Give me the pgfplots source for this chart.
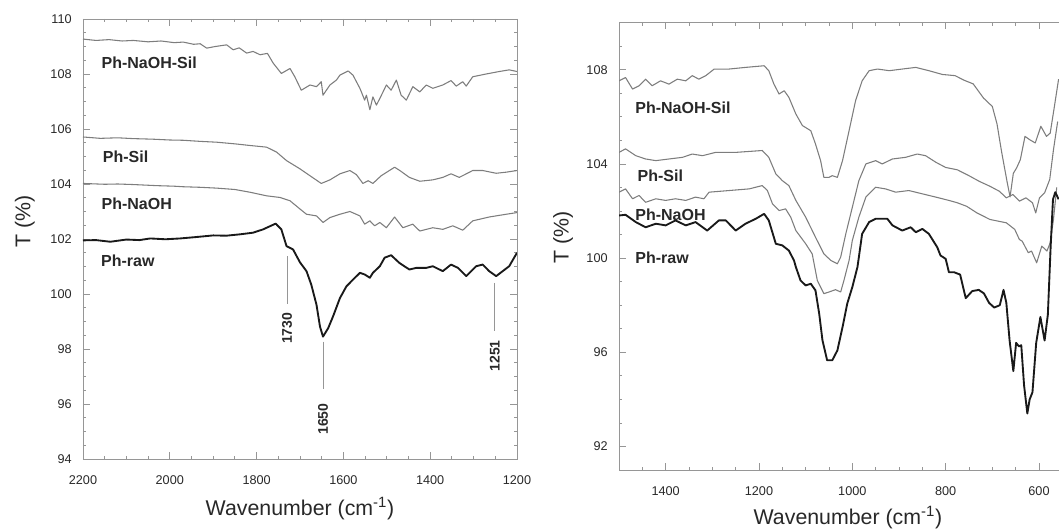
\documentclass[border=0pt]{standalone}
\usepackage{pgfplots}
\pgfplotsset{compat=1.18}
\usepackage{fontspec}
\setmainfont{Liberation Sans}
\definecolor{axgray}{RGB}{150,150,150}
\definecolor{curvegray}{RGB}{125,125,125}
\definecolor{txt}{RGB}{40,40,40}

\pgfplotsset{
  irplot/.style={
    scale only axis,
    x dir=reverse,
    axis line style={axgray, line width=0.6pt},
    every tick/.style={axgray, line width=0.6pt},
    tick align=inside,
    major tick length=5pt,
    minor tick length=2.5pt,
    scaled ticks=false,
    /pgf/number format/1000 sep={},
    /pgf/number format/assume math mode=true,
    ticklabel style={font=\fontsize{9.5}{10}\selectfont, text=txt},
    xticklabel style={yshift=-9pt},
    yticklabel style={xshift=-5pt},
    label style={font=\fontsize{16}{18}\selectfont, text=txt},
    xlabel={Wavenumber (cm\textsuperscript{-1})},
    ylabel={T (\%)},
  },
  sample/.style={curvegray, line width=0.8pt, line join=round},
  raw/.style={black!90, line width=1.4pt, line join=round},
}
\tikzset{
  tag/.style={anchor=west, font=\bfseries\fontsize{12}{12}\selectfont, text=txt},
  peak/.style={rotate=90, font=\bfseries\fontsize{10.5}{10.5}\selectfont, text=txt},
}

\begin{document}
\begin{tikzpicture}
\useasboundingbox (0,0) rectangle (794.25pt,396pt);

% ---- left: 2200-1200 cm-1 ----
\begin{axis}[irplot,
    at={(62.25pt,51.75pt)}, anchor=south west,
    width=325.5pt, height=330pt,
    xmin=1200, xmax=2200, ymin=94, ymax=110,
    xtick={1200,1400,...,2200}, minor xtick={1200,1250,...,2200},
    ytick={94,96,...,110}, minor ytick={94,94.5,...,110},
    xlabel style={at={(axis description cs:0.5,-0.112)}, anchor=center},
    ylabel style={at={(axis description cs:-0.134,0.54)}, anchor=center},
  ]
% Ph-NaOH-Sil
\addplot[sample] coordinates {
(2200,109.27)(2170,109.22)(2140,109.25)(2110,109.2)(2084,109.22)(2050,109.17)
(2020,109.2)(1990,109.14)(1969,109.16)(1945,109.08)(1930,109.1)(1915,108.94)
(1895,109.0)(1869,109.06)(1854,108.88)(1840,108.95)
(1823,108.76)(1808,108.82)(1792,108.7)(1775,108.75)(1762,108.4)(1743,108.02)(1723,108.2)(1712,107.9)
(1697,107.41)(1677,107.6)(1662,107.54)(1651,107.72)(1647,107.23)(1631,107.6)
(1616,107.78)(1608,107.96)(1589,108.11)(1578,107.96)(1562,107.48)(1551,107.05)
(1547,107.23)(1539,106.7)(1532,107.17)(1524,106.87)(1516,107.11)(1501,107.6)
(1490,107.41)(1478,107.78)(1467,107.23)(1455,107.05)(1440,107.54)(1424,107.35)
(1409,107.6)(1394,107.48)(1371,107.6)(1352,107.76)(1340,107.56)(1325,107.72)
(1317,107.56)(1302,107.9)(1271,108.0)(1241,108.09)(1218,108.15)(1200,108.09)};
% Ph-Sil
\addplot[sample] coordinates {
(2200,105.71)(2160,105.66)(2120,105.68)(2084,105.65)(2040,105.63)(2000,105.6)
(1969,105.59)(1930,105.55)(1892,105.52)(1850,105.46)(1815,105.4)(1777,105.34)
(1754,105.16)(1731,104.85)(1700,104.55)(1677,104.3)(1651,104.02)(1631,104.15)
(1608,104.37)(1585,104.49)(1570,104.34)(1555,104.02)(1543,104.12)(1532,104.02)
(1513,104.3)(1482,104.61)(1470,104.49)(1448,104.24)(1424,104.1)(1394,104.15)
(1371,104.24)(1352,104.37)(1333,104.24)(1302,104.49)(1279,104.49)(1248,104.39)
(1225,104.43)(1200,104.49)};
% Ph-NaOH
\addplot[sample] coordinates {
(2200,104.02)(2150,103.99)(2120,104.0)(2084,103.98)(2030,103.94)(1990,103.92)
(1969,103.9)(1930,103.88)(1892,103.85)(1850,103.8)(1815,103.7)(1777,103.57)
(1746,103.51)(1723,103.39)(1700,103.09)(1685,102.9)(1662,102.84)(1647,102.6)
(1631,102.78)(1608,102.9)(1585,103.0)(1562,102.84)(1551,102.54)(1539,102.66)
(1528,102.48)(1516,102.6)(1501,102.41)(1482,102.8)(1463,102.41)(1440,102.54)
(1424,102.29)(1394,102.41)(1371,102.35)(1348,102.48)(1325,102.32)(1302,102.66)
(1264,102.8)(1225,102.9)(1200,102.96)};
% Ph-raw
\addplot[raw] coordinates {
(2200,101.95)(2170,101.96)(2137,101.9)(2100,101.98)(2070,101.96)(2045,102.02)
(2010,101.99)(1976,102.02)(1940,102.07)(1900,102.13)(1870,102.12)(1838,102.17)
(1808,102.23)(1785,102.35)(1756,102.56)(1743,102.35)(1731,101.74)(1716,101.62)
(1700,101.15)(1685,100.83)(1674,100.34)(1662,99.61)(1654,98.82)(1647,98.45)
(1635,98.76)(1624,99.18)(1608,99.85)(1593,100.28)(1578,100.52)(1562,100.77)
(1551,100.71)(1539,100.59)(1532,100.77)(1516,101.01)(1505,101.32)(1490,101.41)
(1471,101.13)(1448,100.89)(1432,100.95)(1409,100.95)(1394,101.01)(1371,100.83)
(1352,101.07)(1336,100.95)(1317,100.65)(1294,101.01)(1279,101.07)(1264,100.83)
(1248,100.65)(1233,100.83)(1218,101.01)(1200,101.5)};
% peak markers
\addplot[axgray, line width=0.6pt] coordinates {(1730,101.38) (1730,99.63)};
\addplot[axgray, line width=0.6pt] coordinates {(1647,98.27) (1647,96.56)};
\addplot[axgray, line width=0.6pt] coordinates {(1251,100.4) (1251,98.66)};
\node[peak] at (axis cs:1730,98.75) {1730};
\node[peak] at (axis cs:1647,95.45) {1650};
\node[peak] at (axis cs:1251,97.75) {1251};
\node[tag] at (axis cs:2168,108.41) {Ph-NaOH-Sil};
\node[tag] at (axis cs:2165,104.98) {Ph-Sil};
\node[tag] at (axis cs:2168,103.27) {Ph-NaOH};
\node[tag] at (axis cs:2169,101.2) {Ph-raw};
\end{axis}

% ---- right: 1500-540 cm-1 ----
\begin{axis}[irplot,
    at={(464.25pt,43.5pt)}, anchor=south west,
    width=336pt, height=335.5pt,
    xmin=540, xmax=1500, ymin=91, ymax=110,
    xtick={600,800,...,1400}, minor xtick={550,600,...,1500},
    ytick={92,96,...,108}, minor ytick={91,92,...,110},
    xlabel style={at={(axis description cs:0.511,-0.107)}, anchor=center},
    ylabel style={at={(axis description cs:-0.125,0.52)}, anchor=center},
  ]
% Ph-NaOH-Sil
\addplot[sample] coordinates {
(1500,107.53)(1486,107.67)(1471,107.18)(1457,107.32)(1443,107.6)(1429,107.32)
(1411,107.53)(1393,107.39)(1375,107.6)(1357,107.53)(1343,107.75)(1329,107.6)
(1314,107.75)(1296,108.03)(1264,108.03)(1229,108.1)(1189,108.17)(1179,107.96)
(1168,107.39)(1157,106.97)(1146,107.11)(1136,106.83)(1121,106.12)(1107,105.63)
(1089,105.41)(1079,104.85)(1068,104.14)(1061,103.43)(1050,103.43)(1043,103.5)
(1032,103.43)(1021,104.14)(1007,105.41)(993,106.69)(979,107.53)(964,107.96)
(946,108.03)(921,107.96)(893,108.03)(864,108.1)(836,107.96)(807,107.8)
(780,107.75)(760,107.55)(741,107.4)(719,106.8)(700,106.44)(690,105.7)
(680,104.5)(668,103.2)(662,102.6)(655,103.6)(648,103.83)(640,104.18)
(630,105.17)(620,105.03)(608,104.89)(596,105.6)(584,105.17)(576,105.31)
(567,106.44)(558,107.6)};
% Ph-Sil
\addplot[sample] coordinates {
(1500,104.49)(1486,104.64)(1464,104.35)(1443,104.21)(1421,104.14)(1393,104.21)
(1364,104.28)(1343,104.42)(1321,104.35)(1293,104.49)(1250,104.49)(1193,104.57)
(1179,104.28)(1164,103.58)(1150,103.29)(1136,103.08)(1121,102.45)(1100,101.74)
(1079,100.89)(1061,100.18)(1046,99.9)(1032,99.76)(1025,100.04)(1014,101.03)
(1000,102.16)(986,103.29)(971,104.0)(950,104.14)(936,104.0)(914,104.21)
(886,104.28)(861,104.42)(843,104.35)(821,104.07)(800,103.85)(775,103.75)
(750,103.5)(728,103.26)(705,103.05)(685,102.84)(670,102.56)(656,102.7)
(642,102.42)(628,102.56)(614,102.35)(607,101.92)(599,102.56)(588,102.77)
(577,103.34)(569,104.6)(560,105.8)};
% Ph-NaOH
\addplot[sample] coordinates {
(1500,102.8)(1486,102.94)(1471,102.52)(1457,102.66)(1443,102.37)(1421,102.52)
(1400,102.45)(1379,102.52)(1357,102.45)(1336,102.59)(1318,102.52)(1307,102.8)
(1264,102.87)(1221,102.94)(1193,103.08)(1182,102.87)(1171,102.3)(1157,102.02)
(1143,102.09)(1132,101.74)(1121,101.17)(1100,100.61)(1086,100.18)(1075,99.05)
(1061,98.49)(1050,98.56)(1036,98.66)(1025,98.56)(1018,99.05)(1007,99.9)
(1000,100.75)(986,101.74)(971,102.59)(950,103.01)(929,102.94)(907,102.8)
(879,102.87)(850,102.73)(821,102.59)(793,102.45)(775,102.35)(755,102.2)
(733,101.92)(705,101.64)(670,101.5)(652,101.22)(642,100.79)(636,100.72)
(623,100.23)(616,100.3)(605,99.8)(594,100.51)(583,100.3)(576,100.65)
(569,101.64)(562,103.0)};
% Ph-raw
\addplot[raw] coordinates {
(1500,101.81)(1486,101.84)(1464,101.53)(1443,101.31)(1421,101.46)(1400,101.39)
(1379,101.6)(1357,101.39)(1336,101.53)(1311,101.17)(1286,101.6)(1271,101.6)
(1250,101.17)(1229,101.46)(1207,101.67)(1189,101.88)(1179,101.6)(1164,100.61)
(1150,100.54)(1136,100.32)(1125,99.9)(1121,99.62)(1111,99.05)(1100,98.84)
(1089,98.91)(1079,98.63)(1071,97.64)(1064,96.51)(1054,95.66)(1043,95.66)
(1032,96.08)(1021,97.07)(1011,98.06)(1000,98.77)(989,99.62)(979,101.03)
(964,101.53)(950,101.67)(925,101.67)(914,101.39)(893,101.17)(875,101.31)
(864,101.1)(850,101.24)(836,101.03)(818,100.46)(811,100.11)(800,99.97)
(793,99.4)(782,99.4)(769,99.3)(757,98.3)(743,98.6)(729,98.65)(718,98.5)
(707,98.1)(696,97.9)(684,98.0)(676,98.65)(670,98.1)(663,96.5)(655,95.2)
(649,96.4)(643,96.25)(638,96.3)(632,94.6)(625,93.4)(620,94.0)(614,94.3)
(606,96.4)(597,97.5)(588,96.5)(581,97.6)(575,100.5)(570,102.5)(565,102.8)
(558,102.5)};
\node[tag] at (axis cs:1475,106.4) {Ph-NaOH-Sil};
\node[tag] at (axis cs:1470,103.5) {Ph-Sil};
\node[tag] at (axis cs:1475,101.85) {Ph-NaOH};
\node[tag] at (axis cs:1475,100.03) {Ph-raw};
\end{axis}
\end{tikzpicture}
\end{document}
